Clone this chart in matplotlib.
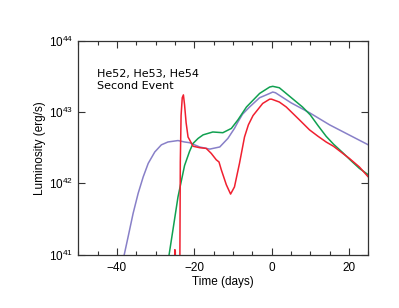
import matplotlib
matplotlib.use("Agg")
import matplotlib.pyplot as plt
import numpy as np
from matplotlib.ticker import FixedLocator, FuncFormatter, MultipleLocator, NullLocator

plt.rcParams['font.family'] = ['Liberation Sans', 'DejaVu Sans']
plt.rcParams['mathtext.fontset'] = 'custom'
plt.rcParams['mathtext.rm'] = 'Liberation Sans'
plt.rcParams['mathtext.it'] = 'Liberation Sans'

# data: time (days) and log10 luminosity (erg/s)
t_purple = [-38.4, -38.1, -37.1, -35.8, -34.5, -33.2, -31.9, -30.2, -28.5, -26.8, -24.2,
            -22.5, -21.2, -18.6, -16.0, -13.4, -11.3, -9.6, -8.7, -7.5, -5.7, -3.1, -0.5,
            0.3, 1.0, 5.0, 9.8, 15.0, 20.0, 25.0]
l_purple = [40.95, 41.0, 41.25, 41.58, 41.86, 42.09, 42.28, 42.44, 42.54, 42.58, 42.60,
            42.58, 42.57, 42.51, 42.48, 42.51, 42.63, 42.77, 42.86, 42.97, 43.07, 43.20, 43.26,
            43.28, 43.27, 43.13, 42.99, 42.82, 42.68, 42.54]

t_green = [-26.7, -26.5, -25.5, -24.2, -22.5, -21.2, -20.3, -19.0, -17.7, -15.2, -12.6,
           -10.4, -8.7, -6.5, -3.1, -0.5, 0.3, 2.0, 4.0, 6.0, 8.0, 10.0, 12.0, 14.1, 16.0,
           18.4, 20.5, 22.7, 25.0]
l_green = [40.95, 41.0, 41.35, 41.81, 42.25, 42.45, 42.56, 42.63, 42.68, 42.72, 42.71,
           42.77, 42.89, 43.07, 43.26, 43.35, 43.36, 43.34, 43.25, 43.16, 43.07, 42.96, 42.81,
           42.66, 42.55, 42.43, 42.32, 42.21, 42.12]

t_red = [-25.3, -25.1, -25.0, -24.9, -24.7, -23.75, -23.6, -23.4, -23.1, -22.8, -22.5, -22.1,
         -21.6, -20.3, -18.6, -16.9, -15.6, -14.3, -13.6, -13.0, -11.7, -10.6,
         -9.6, -8.3, -7.0, -6.0, -4.8, -2.3, -0.5, 0.0, 2.0, 3.8, 5.5, 7.2,
         9.8, 12.0, 14.1, 16.0, 18.4, 20.1, 22.7, 25.0]
l_red = [40.5, 40.9, 41.07, 40.9, 40.5, 40.5, 42.3, 42.95, 43.2, 43.24, 43.1, 42.85,
         42.65, 42.52, 42.50, 42.49, 42.42, 42.33, 42.30, 42.19, 41.98, 41.85,
         41.95, 42.28, 42.65, 42.82, 42.95, 43.12, 43.18, 43.18, 43.14, 43.07, 42.98, 42.89,
         42.75, 42.66, 42.58, 42.52, 42.42, 42.35, 42.23, 42.09]

x_ticks = [-40, -20, 0, 20]
y_ticks = [41, 42, 43, 44]

fig = plt.figure(figsize=(3.99, 3.08), dpi=100)
ax = fig.add_axes([0.196, 0.173, 0.727, 0.695])

lw = 1.1
ax.plot(t_purple, 10.0 ** np.array(l_purple), color='#8880C8', lw=lw)
ax.plot(t_green, 10.0 ** np.array(l_green), color='#10A050', lw=lw)
ax.plot(t_red, 10.0 ** np.array(l_red), color='#F02030', lw=lw)

ax.set_yscale('log')
ax.set_xlim(-50, 25)
ax.set_ylim(1e41, 1e44)

ax.xaxis.set_major_locator(FixedLocator(x_ticks))
ax.xaxis.set_minor_locator(MultipleLocator(5))
ax.yaxis.set_major_locator(FixedLocator([10.0 ** v for v in y_ticks]))
ax.yaxis.set_minor_locator(NullLocator())
ax.yaxis.set_major_formatter(FuncFormatter(lambda v, p: r'$10^{%d}$' % int(round(np.log10(v)))))
ax.xaxis.set_major_formatter(FuncFormatter(lambda v, p: '%d' % v if v >= 0 else '\u2212%d' % abs(v)))

ax.tick_params(which='both', direction='in', top=True, right=True, labelsize=8.5, colors='#333333', labelcolor='black', width=0.8)
ax.tick_params(which='major', length=5)
ax.tick_params(which='minor', length=3)
ax.tick_params(axis='x', pad=5)
for s in ax.spines.values():
    s.set_color('#333333')
    s.set_linewidth(0.9)

ax.set_xlabel('Time (days)', fontsize=8.5, labelpad=2)
ax.set_ylabel('Luminosity (erg/s)', fontsize=8.5, labelpad=2)

ax.text(0.065, 0.775, 'He52, He53, He54\nSecond Event', transform=ax.transAxes,
        fontsize=8, family=['DejaVu Sans'], va='baseline', ha='left', linespacing=1.17)

fig.savefig('out.png', dpi=100)
